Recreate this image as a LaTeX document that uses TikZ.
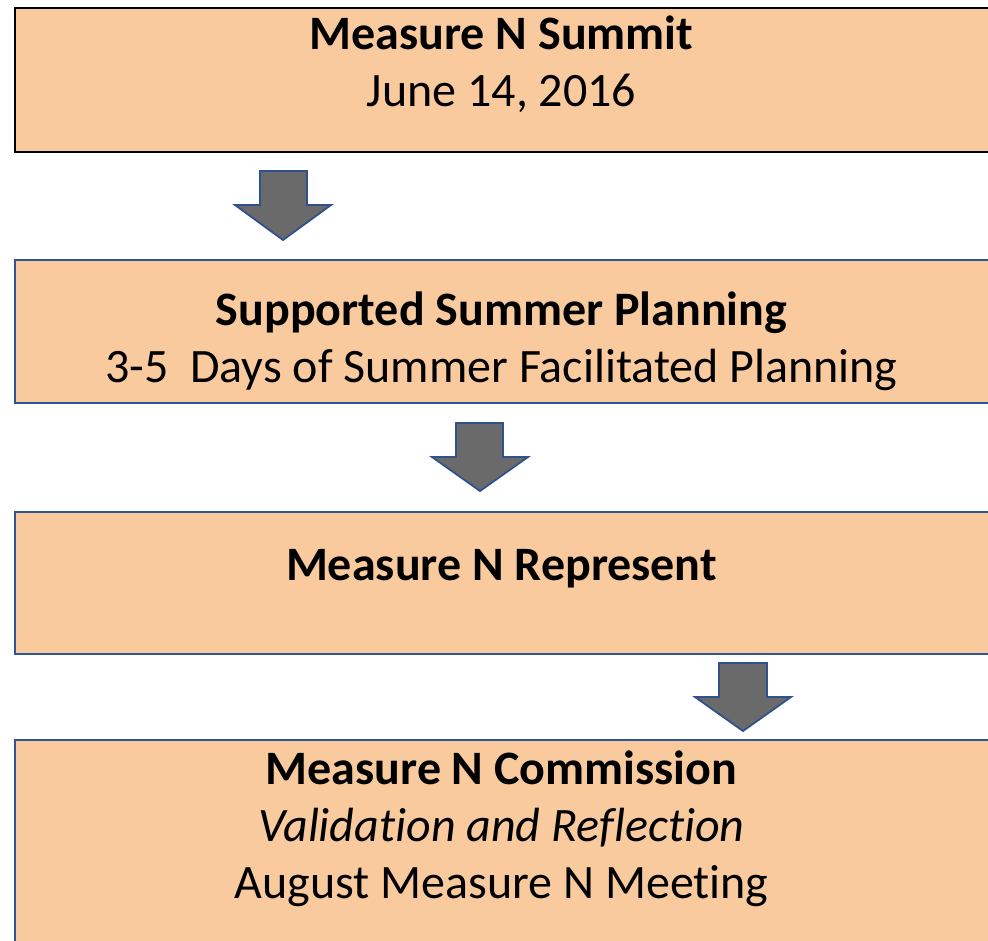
\documentclass[tikz,border=0pt]{standalone}
\usepackage{fontspec}
\setmainfont{Carlito}[Ligatures=NoCommon]
\begin{document}
\begin{tikzpicture}[x=1pt,y=-1pt,
  stagebox/.style={fill=peach,line width=2.4pt,inner sep=0pt,outer sep=0pt},
  stagetext/.style={anchor=base,inner sep=0pt,font=\fontsize{48}{57}\selectfont},
  blockarrow/.style={fill=arrowgray,draw=arrowblue,line width=1.8pt,line join=miter}]
\definecolor{peach}{HTML}{F8CA9E}
\definecolor{boxblue}{HTML}{2F5597}
\definecolor{arrowblue}{HTML}{2F528F}
\definecolor{arrowgray}{HTML}{6A6A6A}
\useasboundingbox (0,0) rectangle (988,940);
\clip (0,0) rectangle (988,940);

% stage boxes (they run off the right edge)
\draw[stagebox,draw=black] (15,8) rectangle (998,152);
\draw[stagebox,draw=boxblue] (15,260) rectangle (998,403);
\draw[stagebox,draw=boxblue] (15,512) rectangle (998,654);
\draw[stagebox,draw=boxblue] (15,740) rectangle (998,960);

% labels
\node[stagetext] (t1a) at (501.5,49) {\textbf{Measure N Summit}};
\node[stagetext] (t1b) at (501.5,106) {June 14, 2016};
\node[stagetext] (t2a) at (501.5,325) {\textbf{Supported Summer Planning}};
\node[stagetext] (t2b) at (501.5,382) {3-5\ \ Days of Summer Facilitated Planning};
\node[stagetext] (t3a) at (501.5,580) {\textbf{Measure N Represent}};
\node[stagetext] (t4a) at (501.5,784) {\textbf{Measure N Commission}};
\node[stagetext] (t4b) at (501.5,841) {\textit{Validation and Reflection}};
\node[stagetext] (t4c) at (501.5,898) {August Measure N Meeting};

% down arrows between stages
\draw[blockarrow] (260,171) -- (307,171) -- (307,205) -- (331,205) -- (283,240)
  -- (235,205) -- (260,205) -- cycle;
\draw[blockarrow] (456,423) -- (503,423) -- (503,457) -- (528,457) -- (480,491)
  -- (432,457) -- (456,457) -- cycle;
\draw[blockarrow] (719,663) -- (767,663) -- (767,697) -- (791,697) -- (743,731)
  -- (695,697) -- (719,697) -- cycle;
\end{tikzpicture}
\end{document}
